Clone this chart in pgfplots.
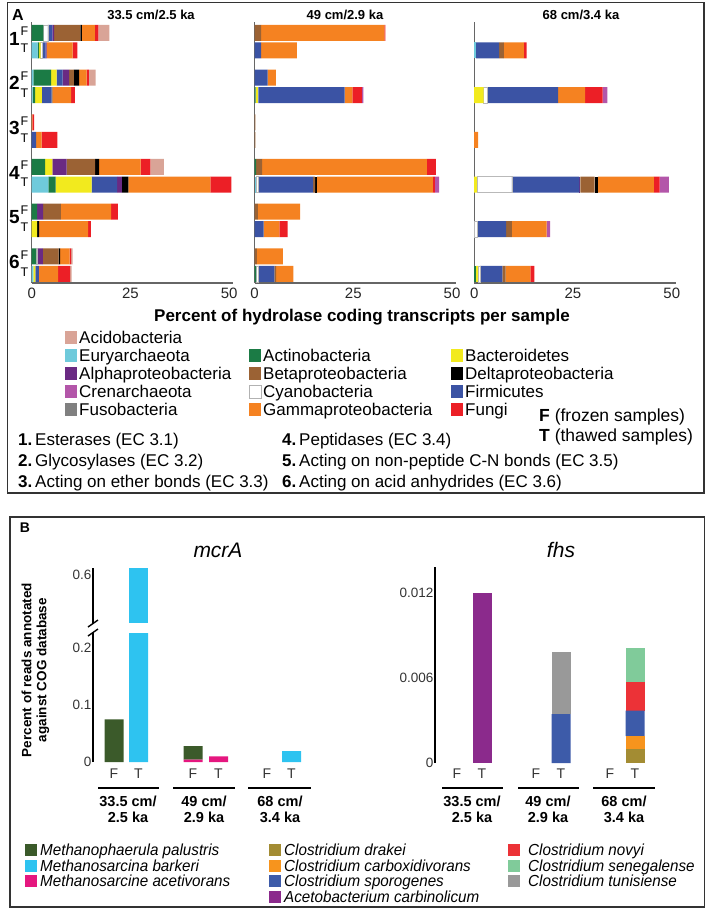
\documentclass[border=0pt]{standalone}
\usepackage{fontspec}
\setmainfont{Liberation Sans}
\newfontfamily\narrowfont[FakeStretch=0.95]{Liberation Sans}
\usepackage{pgfplots}
\usepackage{pgfplotstable}
\pgfplotsset{compat=1.18}
\newcommand{\fs}[1]{\fontsize{#1}{#1}\selectfont}

\definecolor{cAd}{HTML}{D9A497}
\definecolor{cEu}{HTML}{6FCADB}
\definecolor{cAc}{HTML}{1B7B45}
\definecolor{cBa}{HTML}{F2EA1E}
\definecolor{cAl}{HTML}{6A2A83}
\definecolor{cBe}{HTML}{9B6234}
\definecolor{cDe}{HTML}{000000}
\definecolor{cCr}{HTML}{B356A9}
\definecolor{cFi}{HTML}{3B53A4}
\definecolor{cFs}{HTML}{808080}
\definecolor{cGa}{HTML}{F58221}
\definecolor{cFu}{HTML}{EC1F26}
\definecolor{bPal}{HTML}{3B5A2A}
\definecolor{bBar}{HTML}{2EC3F0}
\definecolor{bAce}{HTML}{E5177F}
\definecolor{bDra}{HTML}{A38C33}
\definecolor{bCar}{HTML}{F7941D}
\definecolor{bSpo}{HTML}{3D5BA9}
\definecolor{bAcb}{HTML}{8B2A8C}
\definecolor{bNov}{HTML}{EC3237}
\definecolor{bSen}{HTML}{80CB9A}
\definecolor{bTun}{HTML}{999999}

% Panel A: 33.5 cm / 2.5 ka
\pgfplotstableread{
y      eu   ac   ba   cy   fi   al   be   de   ga   fu   cr   ad
-0.804 0    2.95 0    1.1  1.2  0.4  6.7  0.35 3.3  0.85 0    2.8
-1.196 1.5  0.4  0.35 0.4  0.85 0.25 0    0    6.6  1.2  0    0
-1.804 0.4  4.5  1.4  0    1.5  1.7  1.2  1.3  1.9  0.6  0    1.7
-2.196 0.25 0.6  1.7  0    2.5  0    0.25 0    4.7  0.9  0    0
-2.804 0    0    0    0    0    0    0    0    0.2  0.4  0    0
-3.196 0    0    0    0    1.1  0    0    0    1.4  4.0  0    0
-3.804 0    3.4  1.85 0    0    3.6  7.2  1.0  10.5 2.5  0    3.4
-4.196 4.2  1.85 9.1  0    6.5  1.2  0    1.6  20.8 5.3  0    0
-4.804 0    1.4  0    0    0    1.5  4.5  0    12.7 1.7  0    0
-5.196 0    0    1.4  0    0    0    0    0.5  12.4 0.7  0    0
-5.804 0    1.1  0    0.35 0    1.35 4.0  0.4  2.4  0.4  0    0.35
-6.196 0.4  0    0.5  0    0.9  0    0    0    4.9  3.0  0    0.4
}\colA
% 49 cm / 2.9 ka
\pgfplotstableread{
y      eu   ac   ba   cy   fi   al   be   de   ga   fu   cr   ad
-0.804 0    0    0    0    0    0    1.7  0    31.2 0.25 0    0
-1.196 0    0    0    0    1.7  0    0    0    9.0  0    0    0
-1.804 0    0    0    0    3.3  0    0    0    2.1  0    0    0
-2.196 0    0.3  0.7  0    21.8 0    0    0    2.0  2.4  0.35 0
-2.804 0    0    0    0    0    0    0.25 0    0    0    0    0
-3.196 0    0    0    0    0    0    0.25 0    0    0    0    0
-3.804 0    0.4  0    0    0    0    1.5  0    41.7 2.3  0    0
-4.196 0.35 0    0    0.7  13.8 0    0.5  0.5  29.3 0.5  1.1  0
-4.804 0    0    0    0    0    0    0.85 0    10.7 0    0    0
-5.196 0    0    0    0    2.3  0    0    0    4.0  2.1  0    0
-5.804 0    0    0    0    0    0    0.6  0    6.6  0    0    0
-6.196 0    0.4  0    0.6  4.05 0    0.4  0    4.4  0    0    0
}\colB
% 68 cm / 3.4 ka
\pgfplotstableread{
y      eu   ac   ba   cy   fi   al   be   de   ga   fu   cr   ad
-0.804 0    0    0    0    0    0    0    0    0    0    0    0
-1.196 0.5  0    0    0    5.8  0    1.2  0    5.05 0.7  0    0
-1.804 0    0    0    0    0    0    0    0    0    0    0    0
-2.196 0    0    2.4  0.85 18.0 0    0    0    6.85 4.4  1.2  0
-2.804 0    0    0    0    0    0    0    0    0    0    0    0
-3.196 0    0    0    0    0    0    0    0    1.0  0    0    0
-3.804 0    0    0    0    0    0    0    0    0    0    0    0
-4.196 0    0    0.7  8.8  17.1 0.25 3.6  0.85 14.2 1.4  2.4  0
-4.804 0    0    0    0    0    0    0    0    0    0    0    0
-5.196 0    0    0    0.7  7.4  0    1.45 0    8.8  0    0.85 0
-5.804 0    0    0    0    0    0    0    0    0    0    0    0
-6.196 0    0.5  0.4  0.6  5.6  0    0.85 0    6.25 1.0  0    0
}\colC

\newcommand{\hydroplots}[1]{%
 \addplot[fill=cEu,draw=none] table[x=eu,y=y]{#1};
 \addplot[fill=cAc,draw=none] table[x=ac,y=y]{#1};
 \addplot[fill=cBa,draw=none] table[x=ba,y=y]{#1};
 \addplot[fill=white,draw=gray!55,line width=0.4pt] table[x=cy,y=y]{#1};
 \addplot[fill=cFi,draw=none] table[x=fi,y=y]{#1};
 \addplot[fill=cAl,draw=none] table[x=al,y=y]{#1};
 \addplot[fill=cBe,draw=none] table[x=be,y=y]{#1};
 \addplot[fill=cDe,draw=none] table[x=de,y=y]{#1};
 \addplot[fill=cGa,draw=none] table[x=ga,y=y]{#1};
 \addplot[fill=cFu,draw=none] table[x=fu,y=y]{#1};
 \addplot[fill=cCr,draw=none] table[x=cr,y=y]{#1};
 \addplot[fill=cAd,draw=none] table[x=ad,y=y]{#1};
}

\pgfplotsset{
 hydro/.style={
  scale only axis, width=201.5pt, height=261pt,
  xmin=0, xmax=51, ymin=-6.4, ymax=-0.56,
  xbar stacked, bar width=16pt,
  axis x line=bottom, axis y line=left,
  axis line style={-, draw=black!60, line width=1.3pt},
  xtick={0,25,50}, ytick=\empty, major tick length=0pt,
  xticklabel style={font=\fs{15}, text=black!85, yshift=-1pt},
  /pgf/number format/assume math mode=true,
  anchor=north west,
 },
 bB/.style={
  scale only axis, ybar stacked, bar width=19pt,
  axis y line=left, axis x line=none,
  axis line style={-, draw=black, line width=2.2pt},
  xtick=\empty, major tick length=0pt,
  yticklabel style={font=\fs{13.5}, text=black!80, inner sep=1.5pt},
  /pgf/number format/assume math mode=true,
  scaled y ticks=false,
 },
}

\begin{document}
\begin{tikzpicture}
\path[use as bounding box] (0pt,0pt) rectangle (708pt,-914pt);

% ---------------- Panel A axes ----------------
\begin{axis}[hydro, at={(31.7pt,-22pt)}]
\hydroplots{\colA}
\end{axis}
\begin{axis}[hydro, at={(254.5pt,-22pt)}]
\hydroplots{\colB}
\end{axis}
\begin{axis}[hydro, at={(474.2pt,-22pt)}]
\hydroplots{\colC}
\end{axis}

% ---------------- Panel B axes ----------------
% mcrA lower segment
\begin{axis}[bB, at={(93pt,-762pt)}, anchor=south west, width=227pt, height=129pt,
  xmin=93, xmax=320, ymin=0, ymax=0.2263, ytick={0,0.1,0.2}]
\addplot[fill=bAce,draw=none] coordinates {(114,0) (138.5,0) (193,0.004) (218.5,0.01) (267,0) (291.5,0)};
\addplot[fill=bPal,draw=none] coordinates {(114,0.075) (138.5,0) (193,0.024) (218.5,0) (267,0) (291.5,0)};
\addplot[fill=bBar,draw=none] coordinates {(114,0) (138.5,0.62) (193,0) (218.5,0) (267,0) (291.5,0.019)};
\end{axis}
% mcrA upper segment
\begin{axis}[bB, at={(93pt,-568pt)}, anchor=north west, width=227pt, height=55pt,
  xmin=93, xmax=320, ymin=0.516, ymax=0.6123, ytick={0.6}]
\addplot[fill=bBar,draw=none] coordinates {(138.5,0.62)};
\end{axis}
% fhs
\begin{axis}[bB, at={(435pt,-763pt)}, anchor=south west, width=225pt, height=196pt,
  xmin=435, xmax=660, ymin=0, ymax=0.01384, ytick={0,0.006,0.012},
  yticklabel style={/pgf/number format/fixed, /pgf/number format/precision=3}]
\addplot[fill=bDra,draw=none] coordinates {(457,0) (482,0) (536,0) (561,0) (610,0) (635,0.001)};
\addplot[fill=bCar,draw=none] coordinates {(457,0) (482,0) (536,0) (561,0) (610,0) (635,0.0009)};
\addplot[fill=bSpo,draw=none] coordinates {(457,0) (482,0) (536,0) (561,0.00346) (610,0) (635,0.0018)};
\addplot[fill=bNov,draw=none] coordinates {(457,0) (482,0) (536,0) (561,0) (610,0) (635,0.002)};
\addplot[fill=bSen,draw=none] coordinates {(457,0) (482,0) (536,0) (561,0) (610,0) (635,0.0024)};
\addplot[fill=bTun,draw=none] coordinates {(457,0) (482,0) (536,0) (561,0.0044) (610,0) (635,0)};
\addplot[fill=bAcb,draw=none] coordinates {(457,0) (482,0.012) (536,0) (561,0) (610,0) (635,0)};
\end{axis}

\begin{scope}[x=1pt,y=-1pt]
% ---------------- Panel A decorations ----------------
\draw[line width=1.5pt, black!80] (7.5,2.5) rectangle (704,493);
\node[font=\bfseries\fs{16}] at (18,15) {A};
\node[font=\bfseries\fs{13}] at (151,15) {33.5 cm/2.5 ka};
\node[font=\bfseries\fs{13}] at (345,15) {49 cm/2.9 ka};
\node[font=\bfseries\fs{13}] at (581,15) {68 cm/3.4 ka};

\foreach \i/\c in {1/41.66,2/86.35,3/131.04,4/175.73,5/220.42,6/265.11}{
  \node[font=\bfseries\fs{19}] at (14.5,\c-3) {\i};
  \node[font=\fs{12.5}] at (24.5,\c-10.3) {F};
  \node[font=\fs{12.5}] at (24.5,\c+6.7) {T};
}
\node[font=\bfseries\fs{17}] at (362,317) {Percent of hydrolase coding transcripts per sample};

% legend A
\foreach \col/\sx/\tx/\yy/\nm in {
 cAd/65/79/337.5/Acidobacteria,
 cEu/65/79/355.5/Euryarchaeota,
 cAl/65/79/373.5/Alphaproteobacteria,
 cCr/65/79/391.5/Crenarchaeota,
 cFs/65/79/409.5/Fusobacteria,
 cAc/249/263/355.5/Actinobacteria,
 cBe/249/263/373.5/Betaproteobacteria,
 cGa/249/263/409.5/Gammaproteobacteria,
 cBa/451/465/355.5/Bacteroidetes,
 cDe/451/465/373.5/Deltaproteobacteria,
 cFi/451/465/391.5/Firmicutes,
 cFu/451/465/409.5/Fungi}{
  \fill[\col] (\sx,\yy-6.5) rectangle (\sx+12,\yy+6.5);
  \node[font=\fs{17}, anchor=base west, inner sep=0pt] at (\tx,\yy+6) {\nm};
}
\draw[fill=white, draw=gray!60, line width=0.6pt] (249,391.5-6.5) rectangle (261,391.5+6.5);
\node[font=\fs{17}, anchor=base west, inner sep=0pt] at (263,391.5+6) {Cyanobacteria};

\node[font=\fs{17.5}, anchor=base west, inner sep=0pt] at (539,421) {\textbf{F} (frozen samples)};
\node[font=\fs{17.5}, anchor=base west, inner sep=0pt] at (539,441) {\textbf{T} (thawed samples)};

\node[font=\fs{17}, anchor=base west, inner sep=0pt] at (18,445) {\textbf{1.}\,Esterases (EC 3.1)};
\node[font=\fs{17}, anchor=base west, inner sep=0pt] at (18,466) {\textbf{2.}\,Glycosylases (EC 3.2)};
\node[font=\fs{17}, anchor=base west, inner sep=0pt] at (18,487) {\textbf{3.}\,Acting on ether bonds (EC 3.3)};
\node[font=\fs{17}, anchor=base west, inner sep=0pt] at (282,445) {\textbf{4.}\,Peptidases (EC 3.4)};
\node[font=\fs{17}, anchor=base west, inner sep=0pt] at (282,466) {\textbf{5.}\,Acting on non-peptide C-N bonds (EC 3.5)};
\node[font=\fs{17}, anchor=base west, inner sep=0pt] at (282,487) {\textbf{6.}\,Acting on acid anhydrides (EC 3.6)};

% ---------------- Panel B decorations ----------------
\draw[line width=1.5pt, black!80] (10,517) rectangle (704.5,907);
\node[font=\bfseries\fs{14}] at (25,528) {B};
\node[font=\itshape\fs{21}] at (218,550) {mcrA};
\node[font=\itshape\fs{21}] at (561,550) {fhs};
\node[font=\bfseries\fs{13.5}, rotate=90, align=center] at (35.5,670) {Percent of reads annotated\\[1.5pt]against COG database};
\draw[line width=1.4pt] (88,627) -- (98,620);
\draw[line width=1.4pt] (88,636) -- (98,629);

\foreach \x/\l in {114/F,138.5/T,193/F,218.5/T,267/F,291.5/T,457/F,482/T,536/F,561/T,610/F,635/T}{
  \node[font=\fs{14}, text=black!80] at (\x,774) {\l};
}
\foreach \a/\b/\c/\t/\u in {98/159/128/33.5 cm\slash/2.5 ka, 173/235/204/49 cm\slash/2.9 ka, 248/311/280/68 cm\slash/3.4 ka,
                            442/503/472/33.5 cm\slash/2.5 ka, 518/579/548/49 cm\slash/2.9 ka, 593/655/624/68 cm\slash/3.4 ka}{
  \draw[line width=2.4pt] (\a,788) -- (\b,788);
  \node[font=\bfseries\fs{14.5}] at (\c,801) {\t};
  \node[font=\bfseries\fs{14.5}] at (\c,817) {\u};
}

% legend B
\foreach \col/\sx/\tx/\yy/\nm in {
 bPal/25/40/850/Methanophaerula palustris,
 bBar/25/40/865.5/Methanosarcina barkeri,
 bAce/25/40/881/Methanosarcine acetivorans,
 bDra/269/284/850/Clostridium drakei,
 bCar/269/284/865.5/Clostridium carboxidivorans,
 bSpo/269/284/881/Clostridium sporogenes,
 bAcb/269/284/896.5/Acetobacterium carbinolicum,
 bNov/508/528/850/Clostridium novyi,
 bSen/508/528/865.5/Clostridium senegalense,
 bTun/508/528/881/Clostridium tunisiense}{
  \fill[\col] (\sx,\yy-6) rectangle (\sx+12,\yy+6);
  \node[font=\narrowfont\itshape\fs{16}, anchor=base west, inner sep=0pt] at (\tx,\yy+5.8) {\nm};
}
\end{scope}
\end{tikzpicture}
\end{document}
